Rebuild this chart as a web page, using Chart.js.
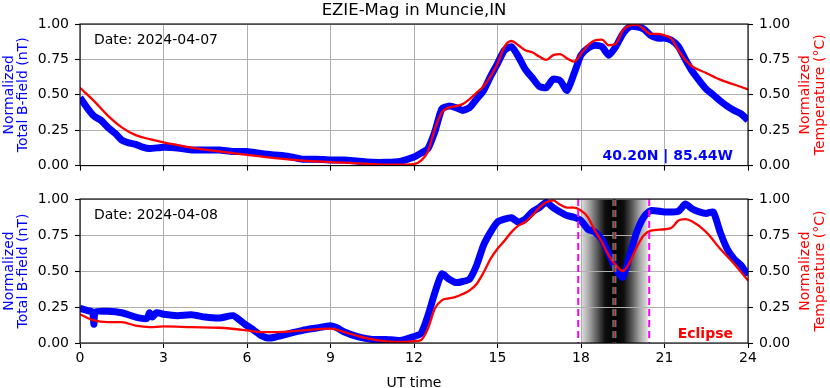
<!DOCTYPE html>
<html>
<head>
<meta charset="utf-8">
<script src="https://cdn.jsdelivr.net/npm/chart.js@4"></script>
<style>
  body { margin: 0; background: #fff; }
  #wrap { position: relative; width: 830px; height: 388px; }
  canvas { position: absolute; left: 0; }
</style>
</head>
<body>
<div id="wrap">
  <canvas id="top" width="830" height="180" style="top:0"></canvas>
  <canvas id="bottom" width="830" height="208" style="top:180px"></canvas>
</div>
<script>
// ---- data (UT hour, normalized value) ----
const hourTicks = [0, 3, 6, 9, 12, 15, 18, 21, 24];
const valueTicks = [0, 0.25, 0.5, 0.75, 1];

// 2024-04-07
const d1FieldHours = [0, 0.25, 0.5, 0.75, 1, 1.25, 1.5, 1.75, 2, 2.25, 2.5, 3, 3.5, 4, 4.5, 5, 5.5, 6, 6.5, 7, 7.5, 8, 8.5, 9, 9.5, 10, 10.5, 11, 11.5, 12,
  12.25, 12.5, 12.75, 13, 13.25, 13.5, 13.75, 14, 14.25, 14.5, 14.75, 15, 15.25, 15.5, 15.75, 16, 16.25, 16.5, 16.75, 17, 17.25, 17.5, 17.75, 18,
  18.25, 18.5, 18.75, 19, 19.25, 19.5, 19.75, 20, 20.25, 20.5, 20.75, 21, 21.25, 21.5, 21.75, 22, 22.25, 22.5, 22.75, 23, 23.25, 23.5, 23.75, 24];
const d1Field = [0.48, 0.41, 0.35, 0.32, 0.27, 0.23, 0.18, 0.16, 0.15, 0.13, 0.12, 0.13, 0.125, 0.11, 0.11, 0.11, 0.10, 0.10, 0.085, 0.075, 0.065, 0.045, 0.045, 0.04, 0.04, 0.03, 0.023, 0.023, 0.03, 0.06,
  0.088, 0.12, 0.24, 0.40, 0.42, 0.41, 0.39, 0.41, 0.47, 0.53, 0.63, 0.72, 0.815, 0.84, 0.77, 0.68, 0.62, 0.56, 0.55, 0.61, 0.60, 0.53, 0.65, 0.78,
  0.83, 0.85, 0.84, 0.78, 0.84, 0.93, 0.98, 0.98, 0.965, 0.92, 0.90, 0.90, 0.885, 0.84, 0.75, 0.665, 0.60, 0.54, 0.50, 0.457, 0.42, 0.39, 0.365, 0.32];
const d1TempHours = [0, 0.5, 1, 1.5, 2, 2.5, 3, 3.5, 4, 5, 6, 7, 8, 9, 10, 11, 11.5, 12, 12.25, 12.5, 12.75, 13, 13.25, 13.5, 13.75, 14, 14.25, 14.5, 14.75,
  15, 15.25, 15.5, 15.75, 16, 16.25, 16.5, 16.75, 17, 17.25, 17.5, 17.75, 18, 18.25, 18.5, 18.75, 19, 19.25, 19.5, 19.75, 20, 20.25, 20.5, 20.75,
  21, 21.25, 21.5, 21.75, 22, 22.5, 23, 23.5, 24];
const d1Temp = [0.55, 0.457, 0.353, 0.27, 0.215, 0.187, 0.164, 0.145, 0.127, 0.10, 0.076, 0.053, 0.035, 0.025, 0.016, 0.007, 0.007, 0.01, 0.035, 0.10, 0.26, 0.376, 0.41, 0.42, 0.434, 0.47, 0.515, 0.56, 0.63,
  0.72, 0.84, 0.88, 0.85, 0.815, 0.80, 0.77, 0.746, 0.78, 0.787, 0.757, 0.734, 0.79, 0.85, 0.885, 0.89, 0.85, 0.86, 0.954, 0.99, 0.995, 0.965, 0.93, 0.93,
  0.92, 0.896, 0.815, 0.746, 0.70, 0.654, 0.607, 0.573, 0.538];

// 2024-04-08
const d2FieldHours = [0, 0.25, 0.45, 0.5, 0.55, 1, 1.5, 2, 2.4, 2.5, 2.6, 2.75, 3, 3.5, 4, 4.5, 5, 5.5, 5.75, 6, 6.25, 6.5, 6.75, 7, 7.5, 8, 8.5, 9, 9.25, 9.5, 10, 10.5, 11, 11.5, 12,
  12.25, 12.5, 12.75, 13, 13.25, 13.5, 13.75, 14, 14.25, 14.5, 14.75, 15, 15.25, 15.5, 15.75, 16, 16.25, 16.5, 16.75, 17, 17.25, 17.5, 17.75, 18,
  18.25, 18.5, 18.75, 19, 19.25, 19.5, 19.75, 20, 20.25, 20.5, 21, 21.5, 21.75, 22, 22.25, 22.5, 22.75, 23, 23.25, 23.5, 23.75, 24];
const d2Field = [0.24, 0.226, 0.215, 0.13, 0.215, 0.22, 0.21, 0.18, 0.17, 0.21, 0.18, 0.21, 0.20, 0.19, 0.196, 0.18, 0.173, 0.19, 0.157, 0.12, 0.088, 0.053, 0.035, 0.04, 0.065, 0.088, 0.104, 0.12, 0.104, 0.076, 0.042, 0.025, 0.025, 0.018, 0.045,
  0.065, 0.19, 0.35, 0.48, 0.445, 0.42, 0.427, 0.445, 0.54, 0.68, 0.77, 0.84, 0.86, 0.87, 0.84, 0.86, 0.91, 0.94, 0.977, 0.94, 0.91, 0.885, 0.873, 0.85,
  0.79, 0.77, 0.72, 0.62, 0.515, 0.457, 0.61, 0.77, 0.873, 0.92, 0.91, 0.915, 0.965, 0.93, 0.91, 0.90, 0.91, 0.77, 0.654, 0.584, 0.54, 0.47];
const d2TempHours = [0, 0.5, 1, 1.5, 2, 2.5, 3, 4, 5, 6, 6.5, 7, 8, 9, 9.5, 10, 10.5, 11, 11.5, 12, 12.25, 12.5, 12.75, 13, 13.25, 13.5, 13.75, 14, 14.25, 14.5, 14.75,
  15, 15.25, 15.5, 15.75, 16, 16.25, 16.5, 16.75, 17, 17.25, 17.5, 17.75, 18, 18.25, 18.5, 18.75, 19, 19.25, 19.5, 19.75, 20, 20.25, 20.5,
  21, 21.25, 21.5, 21.75, 22, 22.5, 23, 23.5, 24];
const d2Temp = [0.20, 0.157, 0.145, 0.145, 0.12, 0.11, 0.115, 0.11, 0.106, 0.088, 0.076, 0.076, 0.088, 0.10, 0.076, 0.048, 0.025, 0.012, 0.007, 0.012, 0.02, 0.10, 0.24, 0.296, 0.31, 0.32, 0.34, 0.365, 0.41, 0.49, 0.584,
  0.654, 0.71, 0.77, 0.815, 0.84, 0.885, 0.94, 0.977, 0.99, 0.96, 0.94, 0.94, 0.92, 0.873, 0.78, 0.70, 0.607, 0.54, 0.50, 0.56, 0.665, 0.746, 0.78,
  0.79, 0.80, 0.85, 0.86, 0.843, 0.77, 0.654, 0.55, 0.434];

// eclipse times (UT hours)
const eclipseStart = 17.9;
const eclipseMax = 19.2;
const eclipseEnd = 20.45;
const shadeFrom = 18.0;
const shadeTo = 20.4;

const FONT = 'DejaVu Sans';

function pts(hours, vals) {
  return hours.map((h, i) => ({ x: h, y: vals[i] }));
}

/* ================= decorations ================= */
function panelPlugin(cfg) {
  return {
    id: 'panel_' + cfg.id,
    beforeDraw(chart) {
      if (!cfg.eclipse) return;
      const { ctx, chartArea: a, scales: { x } } = chart;
      const x0 = x.getPixelForValue(shadeFrom);
      const x1 = x.getPixelForValue(shadeTo);
      const g = ctx.createLinearGradient(x0, 0, x1, 0);
      g.addColorStop(0, 'rgb(225,225,225)');
      g.addColorStop(0.12, 'rgb(165,165,165)');
      g.addColorStop(0.25, 'rgb(85,85,85)');
      g.addColorStop(0.36, 'rgb(15,15,15)');
      g.addColorStop(0.5, 'rgb(0,0,0)');
      g.addColorStop(0.64, 'rgb(15,15,15)');
      g.addColorStop(0.76, 'rgb(85,85,85)');
      g.addColorStop(0.88, 'rgb(165,165,165)');
      g.addColorStop(1, 'rgb(225,225,225)');
      ctx.save();
      ctx.fillStyle = g;
      ctx.fillRect(x0, a.top, x1 - x0, a.bottom - a.top);
      ctx.restore();
    },
    afterDatasetsDraw(chart) {
      if (!cfg.eclipse) return;
      const { ctx, chartArea: a, scales: { x } } = chart;
      const vline = (h, color, w, dash) => {
        const px = x.getPixelForValue(h);
        ctx.save();
        ctx.strokeStyle = color;
        ctx.lineWidth = w;
        ctx.setLineDash(dash);
        ctx.beginPath();
        ctx.moveTo(px, a.top);
        ctx.lineTo(px, a.bottom);
        ctx.stroke();
        ctx.restore();
      };
      vline(eclipseStart, '#ff00ff', 2, [7, 4]);
      vline(eclipseEnd, '#ff00ff', 2, [7, 4]);
      vline(eclipseMax, '#00bfbf', 4, [7, 4]);
      vline(eclipseMax, '#ff0000', 2, [7, 4]);
    },
    afterDraw(chart) {
      const { ctx, chartArea: a } = chart;
      ctx.save();
      // frame
      ctx.strokeStyle = '#000';
      ctx.lineWidth = 1.1;
      ctx.strokeRect(a.left, a.top, a.right - a.left, a.bottom - a.top);

      ctx.font = '14px "' + FONT + '"';
      ctx.textBaseline = 'alphabetic';
      ctx.fillStyle = '#000';
      ctx.textAlign = 'left';
      ctx.fillText(cfg.date, a.left + 14, a.top + 19.5);

      if (cfg.title) {
        ctx.font = '16.5px "' + FONT + '"';
        ctx.textAlign = 'center';
        ctx.fillText(cfg.title, (a.left + a.right) / 2, 15);
      }
      if (cfg.note) {
        ctx.font = 'bold 14px "' + FONT + '"';
        ctx.textAlign = 'right';
        ctx.fillStyle = cfg.noteColor;
        ctx.fillText(cfg.note, a.right - 15, a.bottom - 5.5);
      }
      if (cfg.xTitle) {
        ctx.font = '14px "' + FONT + '"';
        ctx.textAlign = 'center';
        ctx.fillStyle = '#000';
        ctx.fillText(cfg.xTitle, (a.left + a.right) / 2, chart.height - 1.5);
      }

      // y axis titles, both read bottom to top
      const cy = (a.top + a.bottom) / 2;
      const side = (lines, xs, color) => {
        ctx.fillStyle = color;
        lines.forEach((t, i) => {
          ctx.save();
          ctx.translate(xs[i], cy);
          ctx.rotate(-Math.PI / 2);
          ctx.textAlign = 'center';
          ctx.textBaseline = 'middle';
          ctx.fillText(t, 0, 0);
          ctx.restore();
        });
      };
      ctx.font = '14px "' + FONT + '"';
      side(['Normalized', 'Total B-field (nT)'], [9, 23.5], '#0000ff');
      side(['Normalized', 'Temperature (°C)'], [805, 820], '#ff0000');
      ctx.restore();
    }
  };
}

function makePanel(canvasId, fieldH, fieldV, tempH, tempV, cfg) {
  const tickFont = { family: FONT, size: 14 };
  const gridOpts = { color: '#b0b0b0', lineWidth: 1, tickLength: 5, tickColor: '#000', tickWidth: 1.1 };
  const yScale = (pos, width, onArea) => ({
    position: pos,
    min: 0,
    max: 1,
    afterBuildTicks: s => { s.ticks = valueTicks.map(v => ({ value: v })); },
    afterFit: s => { s.width = width; },
    ticks: { font: tickFont, color: '#000', padding: 6, callback: v => Number(v).toFixed(2) },
    grid: Object.assign({}, gridOpts, { drawOnChartArea: onArea }),
    border: { display: false }
  });

  return new Chart(document.getElementById(canvasId), {
    type: 'line',
    data: {
      datasets: [
        {
          label: 'Temperature',
          data: pts(tempH, tempV),
          yAxisID: 'yT',
          borderColor: '#ff0000',
          borderWidth: 2.3,
          pointRadius: 0,
          cubicInterpolationMode: 'monotone',
          clip: 0,
          order: 0
        },
        {
          label: 'B-field',
          data: pts(fieldH, fieldV),
          yAxisID: 'yB',
          borderColor: '#0000ff',
          borderWidth: 7,
          borderJoinStyle: 'round',
          pointRadius: 0,
          tension: 0.2,
          clip: 0,
          order: 1
        }
      ]
    },
    options: {
      responsive: false,
      animation: false,
      devicePixelRatio: 1,
      layout: { padding: { top: cfg.padTop, left: 0, right: 0, bottom: 0 } },
      plugins: { legend: { display: false }, tooltip: { enabled: false } },
      scales: {
        x: {
          type: 'linear',
          min: 0,
          max: 24,
          afterBuildTicks: s => { s.ticks = hourTicks.map(v => ({ value: v })); },
          afterFit: s => { s.height = cfg.xHeight; },
          ticks: { display: cfg.showX, font: tickFont, color: '#000', padding: 2, maxRotation: 0, autoSkip: false },
          grid: gridOpts,
          border: { display: false }
        },
        yB: yScale('left', 80, true),
        yT: yScale('right', 82, false)
      }
    },
    plugins: [panelPlugin(cfg)]
  });
}

makePanel('top', d1FieldHours, d1Field, d1TempHours, d1Temp, {
  id: 'top',
  padTop: 24,
  xHeight: 12,
  showX: false,
  title: 'EZIE-Mag in Muncie,IN',
  date: 'Date: 2024-04-07',
  note: '40.20N | 85.44W',
  noteColor: '#0000ff'
});

makePanel('bottom', d2FieldHours, d2Field, d2TempHours, d2Temp, {
  id: 'bottom',
  padTop: 19,
  xHeight: 45,
  showX: true,
  eclipse: true,
  date: 'Date: 2024-04-08',
  note: 'Eclipse',
  noteColor: '#ff0000',
  xTitle: 'UT time'
});
</script>
</body>
</html>
